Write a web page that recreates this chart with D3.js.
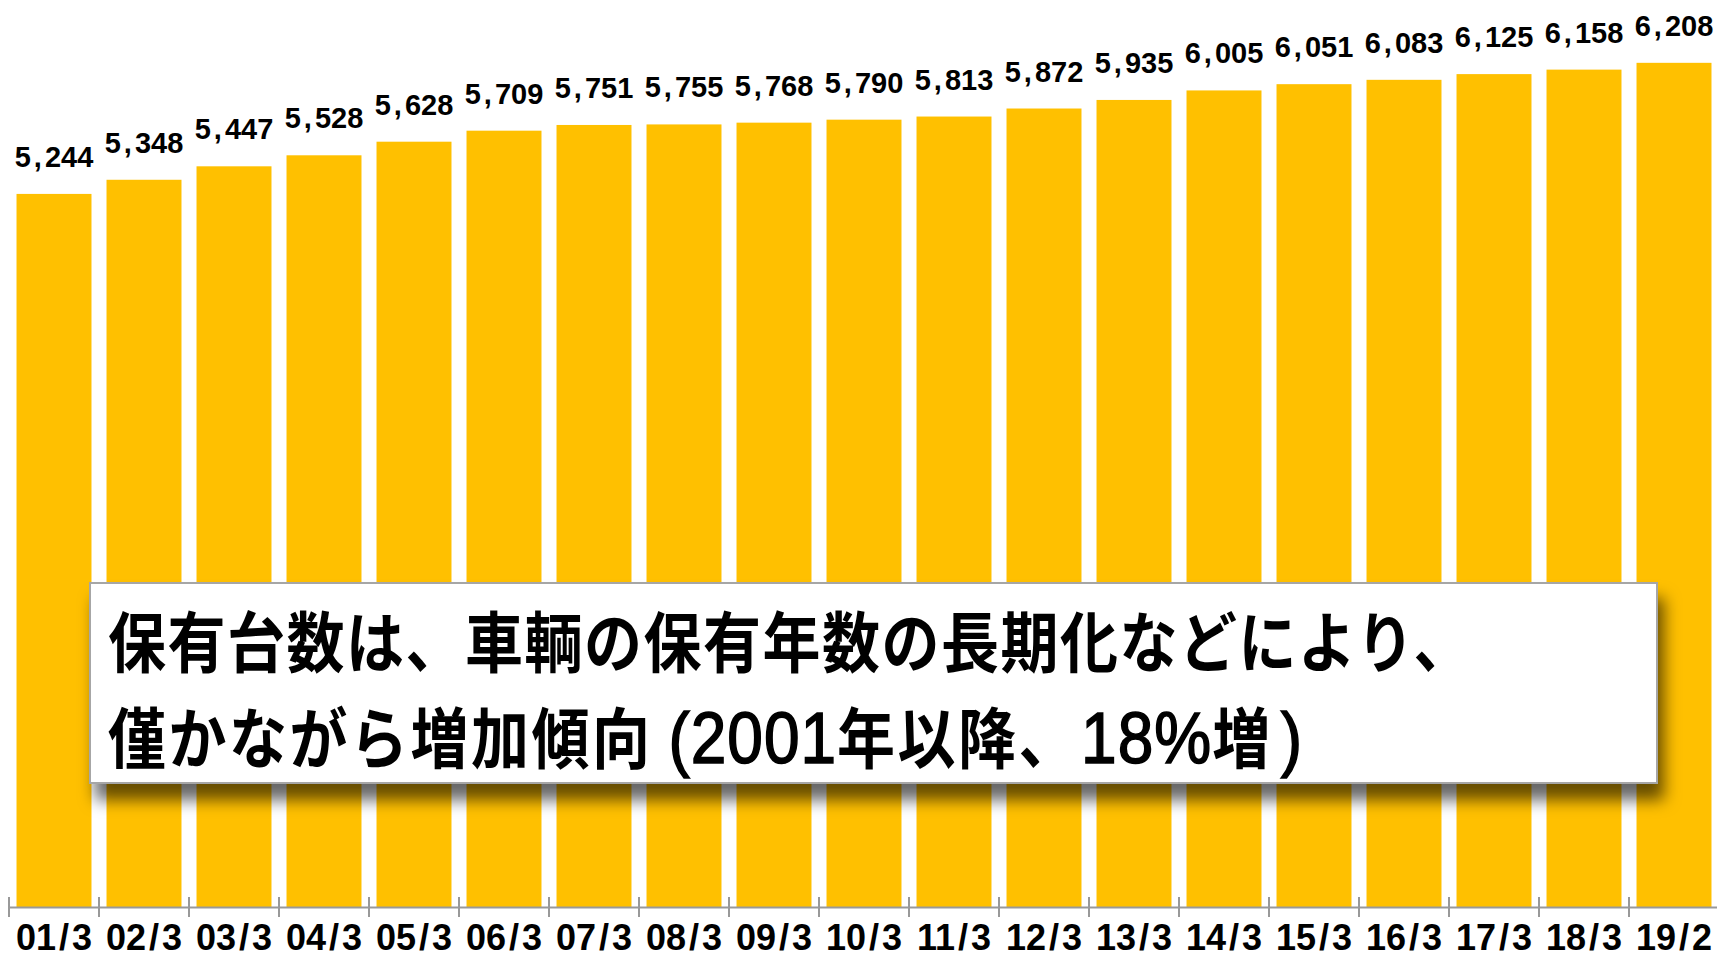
<!DOCTYPE html>
<html>
<head>
<meta charset="utf-8">
<script src="https://cdn.jsdelivr.net/npm/d3@7"></script>
<style>
  body { margin: 0; background: #fff; }
  svg { display: block; }
</style>
</head>
<body>
<svg id="chart" width="1717" height="958"></svg>
<script>
// 保有台数（万台）
const categories = ["01/3","02/3","03/3","04/3","05/3","06/3","07/3","08/3","09/3","10/3",
  "11/3","12/3","13/3","14/3","15/3","16/3","17/3","18/3","19/2"];
const values = [5244, 5348, 5447, 5528, 5628, 5709, 5751, 5755, 5768, 5790,
  5813, 5872, 5935, 6005, 6051, 6083, 6125, 6158, 6208];
const noteLines = [
  "保有台数は、車輌の保有年数の長期化などにより、",
  "僅かながら増加傾向(2001年以降、18%増)"
];

const svg = d3.select("#chart");
const baseY = 907;
const latin = "'Liberation Sans', Arial, sans-serif";
const cjk = "'Noto Sans CJK JP', sans-serif";

const x = d3.scaleBand()
  .domain(categories)
  .range([9, 1719])
  .paddingInner(0.167)
  .paddingOuter(0.0835);

const y = d3.scaleLinear()
  .domain([0, 6670])
  .range([baseY, 0]);

var data = categories.map((c, i) => ({ cat: c, value: values[i] }));

// 棒
svg.append("g")
  .selectAll("rect")
  .data(data)
  .join("rect")
  .attr("x", d => x(d.cat))
  .attr("y", d => y(d.value))
  .attr("width", x.bandwidth())
  .attr("height", d => baseY - y(d.value))
  .attr("fill", "#FFC000");

// 数値ラベル
const fmt = d3.format(",");
svg.append("g")
  .selectAll("text")
  .data(data)
  .join("text")
  .attr("x", d => x(d.cat) + x.bandwidth() / 2)
  .attr("y", d => y(d.value) - 27)
  .attr("text-anchor", "middle")
  .style("font-family", latin)
  .style("font-weight", "bold")
  .style("font-size", "29px")
  .attr("fill", "#000")
  .each(function(d) {
    var parts = fmt(d.value).split(",");
    var t = d3.select(this);
    t.append("tspan").text(parts[0]);
    t.append("tspan").attr("dx", 3).text(",");
    t.append("tspan").attr("dx", 3).text(parts[1]);
  });

// X軸
const axis = svg.append("g")
  .attr("transform", `translate(0,${baseY})`)
  .call(d3.axisBottom(x).tickSize(0).tickSizeOuter(0));

axis.select(".domain").attr("stroke", "#999").attr("stroke-width", 2);
axis.selectAll(".tick text")
  .attr("y", 43)
  .attr("dy", null)
  .attr("fill", "#000")
  .style("font-family", latin)
  .style("font-weight", "bold")
  .style("font-size", "36px")
  .each(function(d) {
    var parts = d.split("/");
    var t = d3.select(this).text(null);
    t.append("tspan").text(parts[0]);
    t.append("tspan").attr("dx", 3).text("/");
    t.append("tspan").attr("dx", 3).text(parts[1]);
  });

// 区切り目盛り
axis.selectAll(".sep")
  .data(categories)
  .join("line")
  .attr("class", "sep")
  .attr("x1", d => x(d) - x.step() * x.paddingInner() / 2)
  .attr("x2", d => x(d) - x.step() * x.paddingInner() / 2)
  .attr("y1", -10)
  .attr("y2", 10)
  .attr("stroke", "#999")
  .attr("stroke-width", 2);

// 注記ボックス
const defs = svg.append("defs");
defs.append("filter")
  .attr("id", "shadow")
  .attr("x", "-5%").attr("y", "-20%")
  .attr("width", "115%").attr("height", "150%")
  .append("feDropShadow")
  .attr("dx", 6)
  .attr("dy", 16)
  .attr("stdDeviation", 8)
  .attr("flood-color", "#000")
  .attr("flood-opacity", 0.6);

svg.append("rect")
  .attr("x", 90)
  .attr("y", 583)
  .attr("width", 1567)
  .attr("height", 200)
  .attr("fill", "#fff")
  .attr("stroke", "#a6a6a6")
  .attr("stroke-width", 2)
  .attr("filter", "url(#shadow)");

// 半角（英数字・記号）と全角で文字列を分け、半角は欧文フォントで描く
function splitRuns(s) {
  return s.match(/[\x20-\x7e]+|[^\x20-\x7e]+/g);
}

svg.append("g")
  .selectAll("text")
  .data(noteLines)
  .join("text")
  .attr("transform", (d, i) => `translate(108, ${667 + i * 96}) scale(1, 1.14)`)
  .attr("fill", "#000")
  .each(function(d, i) {
    var t = d3.select(this);
    var runs = splitRuns(d);
    runs.forEach((r, j) => {
      var isLatin = /^[\x20-\x7e]+$/.test(r);
      var span = t.append("tspan").text(r);
      if (isLatin) {
        span.style("font-family", latin)
          .style("font-size", "64px")
          .style("letter-spacing", "1px")
          .attr("stroke", "#000")
          .attr("stroke-width", 1.4);
        if (r.startsWith("(")) span.attr("dx", 16);
        else if (r.startsWith(")")) span.attr("dx", 8);
        else if (j > 0 && runs[j - 1].endsWith("、")) span.attr("dx", 2);
      } else {
        span.style("font-family", cjk)
          .style("font-weight", "bold")
          .style("font-size", "58px")
          .style("letter-spacing", i == 0 ? "1.5px" : "2.5px");
      }
    });
  });
</script>
</body>
</html>
